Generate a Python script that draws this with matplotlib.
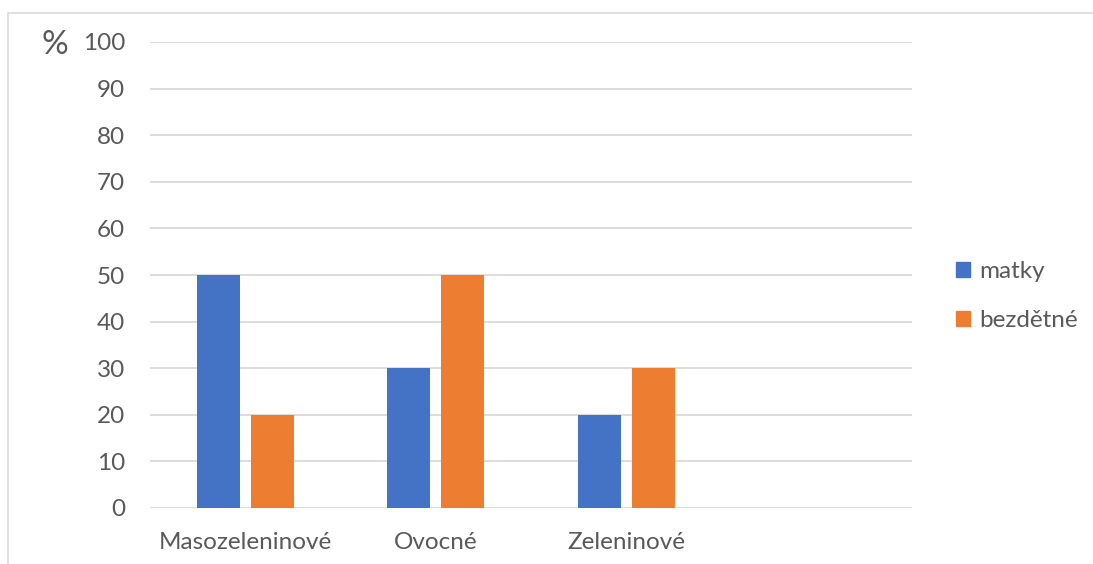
import matplotlib.pyplot as plt
import matplotlib.patches as mpatches
import numpy as np

# ========= DATA =========
categories = ["Masozeleninové", "Ovocné", "Zeleninové", ""]
matky = [50, 30, 20, None]
bezdetne = [20, 50, 30, None]
series_names = ["matky", "bezdětné"]
y_ticks = list(range(0, 101, 10))
# ========================

BLUE = "#4472C4"
ORANGE = "#ED7D31"
TEXT = "#595959"
GRID = "#D9D9D9"

plt.rcParams["font.family"] = ["Lato", "DejaVu Sans"]


def main():
    fig = plt.figure(figsize=(10.93, 5.64), dpi=100)
    ax = fig.add_axes([150 / 1093, 1 - 508 / 564, 762 / 1093, 466 / 564])

    x = np.arange(len(categories))
    width = 43 / 190.5
    offset = 27 / 190.5

    m_vals = [v if v is not None else 0 for v in matky]
    b_vals = [v if v is not None else 0 for v in bezdetne]
    ax.bar(x - offset, m_vals, width, color=BLUE, label=series_names[0], zorder=3)
    ax.bar(x + offset, b_vals, width, color=ORANGE, label=series_names[1], zorder=3)

    ax.set_xlim(-0.5, len(categories) - 0.5)
    ax.set_ylim(0, 100)
    ax.set_yticks(y_ticks)
    ax.yaxis.grid(True, color=GRID, linewidth=1.3, zorder=0)
    for s in ax.spines.values():
        s.set_visible(False)
    ax.tick_params(axis="both", length=0, labelsize=17.5, labelcolor=TEXT)
    ax.tick_params(axis="y", pad=18)
    ax.tick_params(axis="x", pad=17)
    ax.set_xticks(x)
    ax.set_xticklabels(categories)

    # percent sign
    fig.text(55 / 1093, 1 - 45 / 564, "%", fontsize=24, color=TEXT,
             ha="center", va="center")

    # legend
    handles = [mpatches.Patch(color=BLUE, label=series_names[0]),
               mpatches.Patch(color=ORANGE, label=series_names[1])]
    leg = fig.legend(handles=handles, loc="center left",
                     bbox_to_anchor=(934 / 1093, 1 - 296 / 564),
                     frameon=False, fontsize=17.5, handlelength=0.6,
                     handleheight=0.6, handletextpad=0.35, labelspacing=1.15)
    for t in leg.get_texts():
        t.set_color(TEXT)

    # chart area border
    fig.patches.append(mpatches.Rectangle(
        (8 / 1093, -0.05), 1.1, 1 - 13 / 564 + 0.05, transform=fig.transFigure,
        fill=False, edgecolor=GRID, linewidth=1.2))

    plt.savefig("out.png", dpi=100)


if __name__ == "__main__":
    main()
